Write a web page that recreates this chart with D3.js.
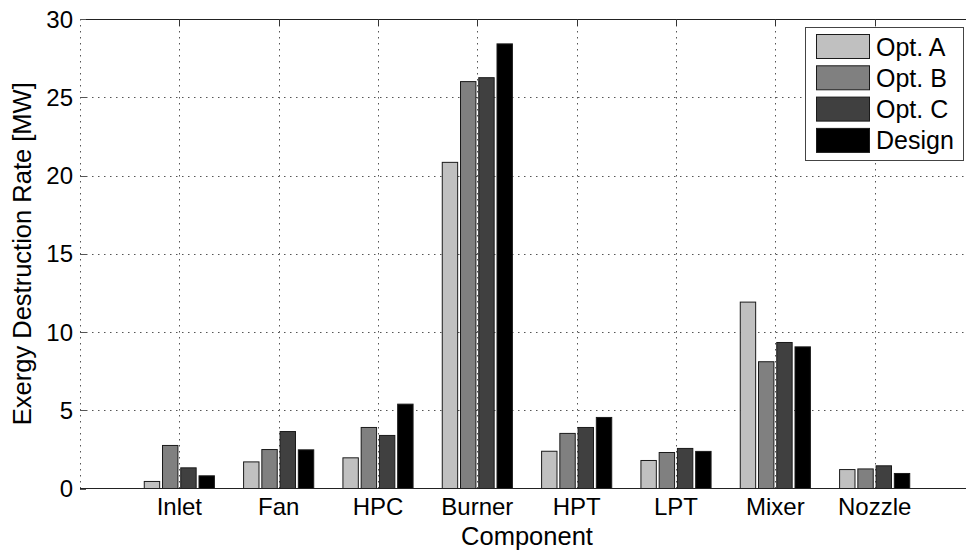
<!DOCTYPE html>
<html><head><meta charset="utf-8">
<script src="https://cdn.jsdelivr.net/npm/d3@7"></script>
<style>body{margin:0;background:#fff;}svg{display:block;font-family:"Liberation Sans",Arial,sans-serif;}</style>
</head><body>
<svg id="c" width="966" height="554"></svg>
<script>
const categories = ["Inlet","Fan","HPC","Burner","HPT","LPT","Mixer","Nozzle"];
const seriesNames = ["Opt. A","Opt. B","Opt. C","Design"];
const optA   = [0.45, 1.70, 1.96, 20.84, 2.38, 1.79, 11.91, 1.21];
const optB   = [2.75, 2.49, 3.90, 26.00, 3.52, 2.30, 8.10, 1.25];
const optC   = [1.32, 3.64, 3.39, 26.25, 3.90, 2.56, 9.33, 1.45];
const design = [0.81, 2.47, 5.39, 28.41, 4.54, 2.37, 9.05, 0.96];
const yTicks = [0,5,10,15,20,25,30];
const colors = ["#c0c0c0","#808080","#404040","#000000"];
const series = [optA, optB, optC, design];

const svg = d3.select("#c");
const L=80, R=974, T=19, B=488.5;
const x = d3.scaleLinear().domain([0,9]).range([L,R]);
const y = d3.scaleLinear().domain([0,30]).range([B,T]);

const grid = svg.append("g").attr("stroke","#555").attr("stroke-width",1).attr("stroke-dasharray","1.5,4.5");
yTicks.filter(t=>t>0&&t<30).forEach(t=>{
  grid.append("line").attr("x1",L).attr("x2",R).attr("y1",Math.round(y(t))+0.5).attr("y2",Math.round(y(t))+0.5);
});
categories.forEach((c,i)=>{
  const xx=Math.round(x(i+1))+0.5;
  grid.append("line").attr("x1",xx).attr("x2",xx).attr("y1",T).attr("y2",B);
});
grid.append("line").attr("x1",L+0.5).attr("x2",L+0.5).attr("y1",T).attr("y2",B);

// bars
const pitch=0.1837, bw=0.155;
series.forEach((s,si)=>{
  svg.append("g").selectAll("rect").data(s).enter().append("rect")
    .attr("x",(d,i)=>x(i+1+(si-1.5)*pitch-bw/2))
    .attr("width",x(bw)-x(0))
    .attr("y",d=>y(d))
    .attr("height",d=>y(0)-y(d))
    .attr("fill",colors[si]).attr("stroke","#1a1a1a").attr("stroke-width",1);
});

// axes frame
svg.append("line").attr("x1",L).attr("x2",R).attr("y1",T+0.5).attr("y2",T+0.5).attr("stroke","#222").attr("stroke-width",1);
svg.append("line").attr("x1",L).attr("x2",R).attr("y1",B).attr("y2",B).attr("stroke","#222").attr("stroke-width",1.2);
// ticks
yTicks.forEach(t=>{
  svg.append("line").attr("x1",L).attr("x2",L+6).attr("y1",Math.round(y(t))+0.5).attr("y2",Math.round(y(t))+0.5).attr("stroke","#555");
});
categories.forEach((c,i)=>{
  const xx=Math.round(x(i+1))+0.5;
  svg.append("line").attr("x1",xx).attr("x2",xx).attr("y1",T).attr("y2",T+7).attr("stroke","#333");
});

// labels
svg.append("g").selectAll("text").data(yTicks).enter().append("text")
  .attr("x",73).attr("y",d=>y(d)).attr("dy","0.36em").attr("text-anchor","end")
  .attr("font-size",24).text(d=>d);
svg.append("g").selectAll("text").data(categories).enter().append("text")
  .attr("x",(d,i)=>x(i+1)).attr("y",515).attr("text-anchor","middle")
  .attr("font-size",24).text(d=>d);
svg.append("text").attr("x",(L+R)/2).attr("y",545).attr("text-anchor","middle").attr("font-size",25.5).text("Component");
svg.append("text").attr("transform",`translate(31,${(T+B)/2}) rotate(-90)`).attr("text-anchor","middle").attr("font-size",25.5).text("Exergy Destruction Rate [MW]");

// legend
const lg = svg.append("g");
lg.append("rect").attr("x",805.5).attr("y",27.5).attr("width",158).attr("height",133).attr("fill","#fff").attr("stroke","#444");
seriesNames.forEach((n,i)=>{
  const yy=34+i*31.3;
  lg.append("rect").attr("x",816.5).attr("y",yy+0.5).attr("width",53).attr("height",24).attr("fill",colors[i]).attr("stroke","#1a1a1a");
  lg.append("text").attr("x",876).attr("y",yy+12.5).attr("dy","0.36em").attr("font-size",25).text(n);
});
</script>
</body></html>
